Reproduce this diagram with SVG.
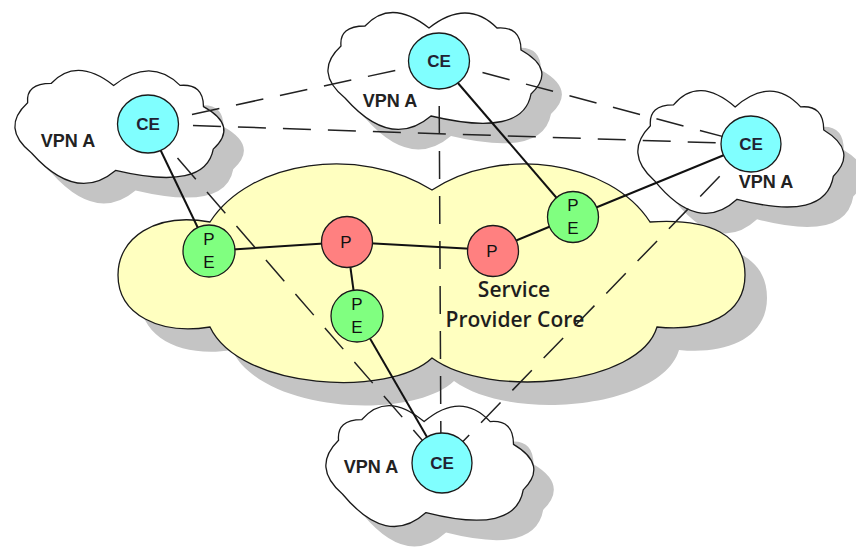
<svg xmlns="http://www.w3.org/2000/svg" xmlns:xlink="http://www.w3.org/1999/xlink" width="856" height="548" viewBox="0 0 856 548">
<style>
.shadow{fill:#c4c4c4;stroke:none}
.vcloud{fill:#ffffff;stroke:#1a1a1a;stroke-width:1.3}
.core{fill:#ffffc0;stroke:#1a1a1a;stroke-width:1.3}
.solid{stroke:#111;stroke-width:2;fill:none}
.dash{stroke:#222;stroke-width:1.5;fill:none;stroke-dasharray:28 17}
.ce{fill:#80ffff;stroke:#1a1a1a;stroke-width:1.3}
.p{fill:#ff8080;stroke:#1a1a1a;stroke-width:1.3}
.pe{fill:#80ff80;stroke:#1a1a1a;stroke-width:1.3}
.lbl{font-family:"Liberation Sans",Arial,sans-serif;font-weight:bold;font-size:18px;fill:#222;text-anchor:middle}
.cet{font-family:"Liberation Sans",Arial,sans-serif;font-weight:bold;font-size:17px;fill:#223;text-anchor:middle}
.pt{font-family:"Liberation Sans",Arial,sans-serif;font-size:17px;fill:#111;text-anchor:middle}
.core-t{font-family:"Open Sans","Noto Sans",sans-serif;font-weight:600;font-size:21px;fill:#1e1e1e;text-anchor:middle}
</style>
<defs>
<path id="cl" vector-effect="non-scaling-stroke" d="M20,88 Q-12,62 16,36 Q14,16 40,16 Q66,-12 104,18 Q142,-12 172,18 Q196,16 196,40 Q232,60 206,84 Q198,128 106,106 Q66,140 20,88 Z"/>
<path id="core" d="M210,222 C250,160 360,145 432,190 C500,145 610,160 650,222 C710,218 745,235 745,275 C745,315 705,332 657,327 C640,385 490,400 432,358 C390,398 240,390 210,327 C160,335 118,315 118,275 C118,238 155,212 210,222 Z"/>
</defs>

<g id="shadows">
<use href="#cl" class="shadow" transform="translate(32,88) scale(0.977,0.966)"/>
<use href="#cl" class="shadow" transform="translate(345,30)"/>
<use href="#cl" class="shadow" transform="translate(655,108) scale(0.963,1.05)"/>
<use href="#core" class="shadow" transform="translate(22,23)"/>
<use href="#cl" class="shadow" transform="translate(343,423) scale(0.972,1.034)"/>
</g>

<g id="core-cloud">
<use href="#core" class="core"/>
<text class="core-t" x="514" y="297">Service</text>
<text class="core-t" x="515" y="327">Provider Core</text>
</g>

<g id="site-left">
<use href="#cl" class="vcloud" transform="translate(12,68) scale(0.977,0.966)"/>
<text class="lbl" x="68" y="147">VPN A</text>
</g>
<g id="site-top">
<use href="#cl" class="vcloud" transform="translate(325,10)"/>
<text class="lbl" x="390" y="107">VPN A</text>
</g>
<g id="site-right">
<use href="#cl" class="vcloud" transform="translate(635,88) scale(0.963,1.05)"/>
<text class="lbl" x="766" y="188">VPN A</text>
</g>
<g id="site-bottom">
<use href="#cl" class="vcloud" transform="translate(323,403) scale(0.972,1.034)"/>
<text class="lbl" x="371" y="473">VPN A</text>
</g>

<g id="connectors">
<line class="dash" x1="148" y1="124" x2="439" y2="61"/>
<line class="dash" x1="148" y1="124" x2="751" y2="144"/>
<line class="dash" x1="148" y1="124" x2="442" y2="463"/>
<line class="dash" x1="439" y1="61" x2="751" y2="144"/>
<line class="dash" x1="439" y1="61" x2="441" y2="463"/>
<line class="dash" x1="751" y1="144" x2="442" y2="463"/>
<line class="solid" x1="148" y1="124" x2="209" y2="251"/>
<line class="solid" x1="209" y1="251" x2="347" y2="242"/>
<line class="solid" x1="347" y1="242" x2="493" y2="250"/>
<line class="solid" x1="347" y1="242" x2="357" y2="316"/>
<line class="solid" x1="357" y1="316" x2="442" y2="463"/>
<line class="solid" x1="493" y1="250" x2="573" y2="217"/>
<line class="solid" x1="573" y1="217" x2="439" y2="61"/>
<line class="solid" x1="573" y1="217" x2="751" y2="144"/>
</g>

<g id="ce-left"><ellipse class="ce" cx="148" cy="124" rx="30.5" ry="29"/><text class="cet" x="148" y="130">CE</text></g>
<g id="ce-top"><ellipse class="ce" cx="439" cy="61" rx="30.5" ry="28"/><text class="cet" x="439" y="67">CE</text></g>
<g id="ce-right"><ellipse class="ce" cx="751" cy="144" rx="30" ry="28"/><text class="cet" x="751" y="150">CE</text></g>
<g id="ce-bottom"><ellipse class="ce" cx="442" cy="463" rx="30" ry="30"/><text class="cet" x="442" y="469">CE</text></g>

<g id="pe-left"><circle class="pe" cx="209" cy="251" r="26"/><text class="pt" x="209" y="245">P</text><text class="pt" x="209" y="268">E</text></g>
<g id="pe-right"><circle class="pe" cx="573" cy="217" r="25.5"/><text class="pt" x="573" y="211">P</text><text class="pt" x="573" y="234">E</text></g>
<g id="pe-bottom"><circle class="pe" cx="357" cy="316" r="26"/><text class="pt" x="357" y="310">P</text><text class="pt" x="357" y="333">E</text></g>
<g id="p-left"><circle class="p" cx="347" cy="242" r="25.5"/><text class="pt" x="346" y="248">P</text></g>
<g id="p-right"><circle class="p" cx="493" cy="251" r="25.5"/><text class="pt" x="492" y="257">P</text></g>
</svg>
